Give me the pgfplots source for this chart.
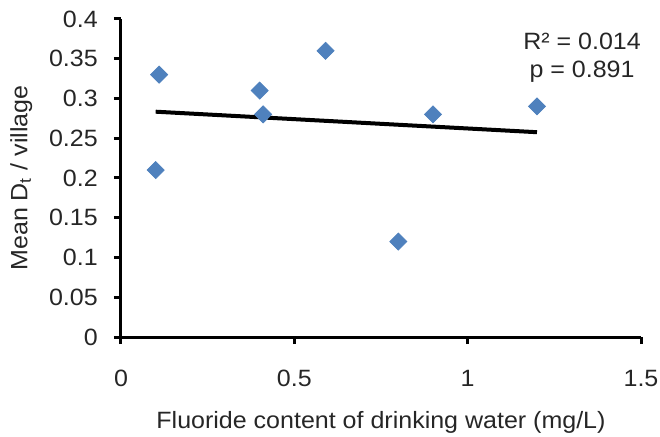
\documentclass[border=0pt]{standalone}
\usepackage{pgfplots}
\pgfplotsset{compat=1.18}
\usepackage{fontspec}
\setmainfont[FakeStretch=1.06]{Liberation Sans}
\definecolor{ptblue}{HTML}{4F81BD}
\definecolor{txt}{HTML}{262626}
\newcommand{\fs}{\fontsize{11.8bp}{14bp}\selectfont}
\begin{document}
\fs
\begin{tikzpicture}
\begin{axis}[
  at={(0,0)}, anchor=south west,
  scale only axis, width=260bp, height=159bp,
  xmin=0, xmax=1.5, ymin=0, ymax=0.4,
  axis x line=bottom, axis y line=left,
  axis line style={line width=1.5bp, -},
  xtick={0,0.5,1,1.5}, ytick={0,0.05,...,0.4},
  tick align=outside, major tick length=3.5bp,
  tick style={line width=1.5bp, black},
  /pgf/number format/assume math mode=true,
  ticklabel style={font=\fs, text=txt},
  yticklabel style={/pgf/number format/fixed, xshift=-4bp},
  xticklabel style={/pgf/number format/fixed, yshift=-9bp},
  xlabel={Fluoride content of drinking water (mg/L)},
  ylabel={Mean D\textsubscript{t} / village},
  xlabel style={at={(axis description cs:0.5,-0.267)}, anchor=center, text=txt, font=\fs},
  ylabel style={at={(axis description cs:-0.192,0.5)}, anchor=center, rotate=0, text=txt, font=\fs},
  clip=false,
]
\addplot[only marks, mark=square*, mark size=3bp, mark options={rotate=45, fill=ptblue, draw=ptblue}]
  coordinates {(0.1,0.21) (0.11,0.33) (0.4,0.31) (0.41,0.28) (0.59,0.36) (0.8,0.12) (0.9,0.28) (1.2,0.29)};
\addplot[black, line width=2bp, no marks] coordinates {(0.1,0.2834) (1.2,0.2576)};
\node[align=center, text=txt, font=\fontsize{11.8bp}{14bp}\selectfont] at (axis cs:1.33,0.351) {R² = 0.014\\p = 0.891};
\end{axis}
\pgfresetboundingbox
\path (-60.5bp,-50bp) rectangle (269.5bp,168.5bp);
\end{tikzpicture}
\end{document}
